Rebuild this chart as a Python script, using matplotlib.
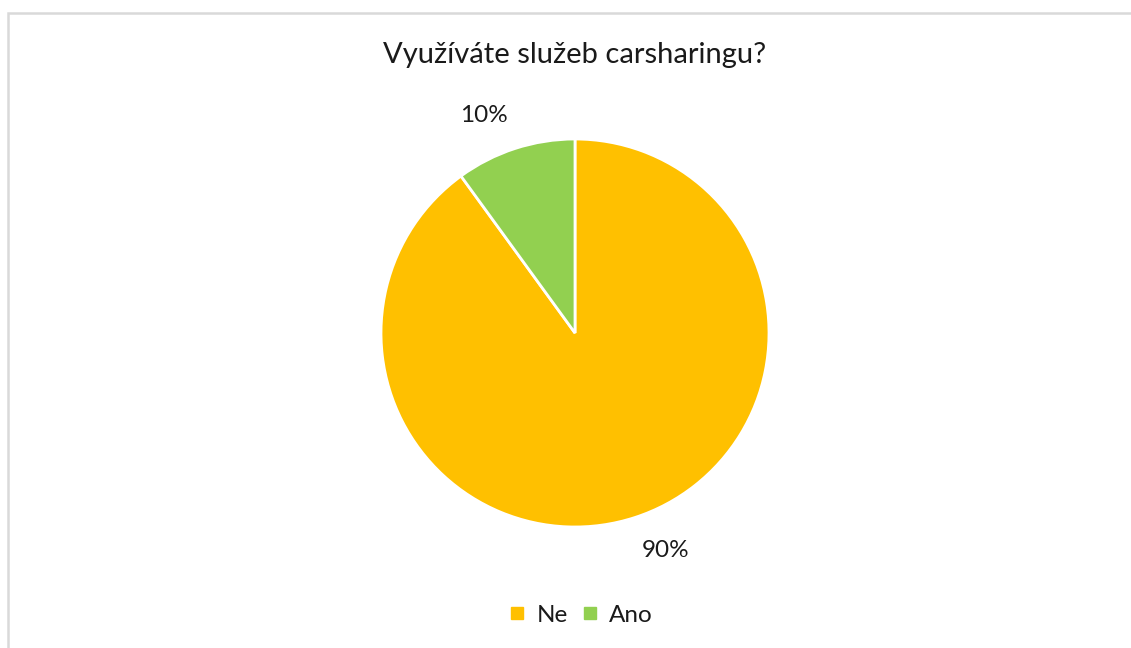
import numpy as np
import matplotlib.pyplot as plt
from matplotlib.lines import Line2D
from matplotlib.patches import Rectangle

# data
labels = ['Ne', 'Ano']
shares = [90, 10]
colors = ['#FFC000', '#92D050']
title = 'Využíváte služeb carsharingu?'

plt.rcParams['font.family'] = ['Lato', 'DejaVu Sans']

W, H = 1131, 648
fig = plt.figure(figsize=(W / 100, H / 100), dpi=100)

# light grey chart frame
fig.patches.append(Rectangle((8 / W, -0.1), 1.2, 1 - 13 / H + 0.1, transform=fig.transFigure,
                             fill=False, edgecolor='#D9D9D9', linewidth=1.8))

cx, cy, r = 575, 333, 194
ax = fig.add_axes([(cx - r) / W, (H - cy - r) / H, 2 * r / W, 2 * r / H])
wedges, _ = ax.pie(shares, colors=colors, startangle=90, counterclock=False, radius=1,
                   wedgeprops=dict(edgecolor='white', linewidth=2))
ax.set_xlim(-1, 1)
ax.set_ylim(-1, 1)
ax.set_aspect('equal')
ax.axis('off')

for w, v in zip(wedges, shares):
    mid = np.deg2rad((w.theta1 + w.theta2) / 2)
    x, y = 1.12 * np.cos(mid), 1.12 * np.sin(mid)
    ax.text(x, y, f'{v}%', fontsize=17.5, color='#1a1a1a',
            ha='left' if x > 0 else 'right', va='top' if y < 0 else 'bottom', clip_on=False)

fig.text(cx / W, 1 - 55 / H, title, ha='center', va='center', fontsize=21, color='#1a1a1a')

handles = [Line2D([], [], marker='s', linestyle='none', markersize=8.5, color=c) for c in colors]
fig.legend(handles, labels, loc='center', bbox_to_anchor=(581 / W, 1 - 615 / H), ncol=2,
           frameon=False, fontsize=17.5, handlelength=0.7, handletextpad=0.45,
           columnspacing=0.55, labelcolor='#1a1a1a')

fig.savefig('out.png', dpi=100)
